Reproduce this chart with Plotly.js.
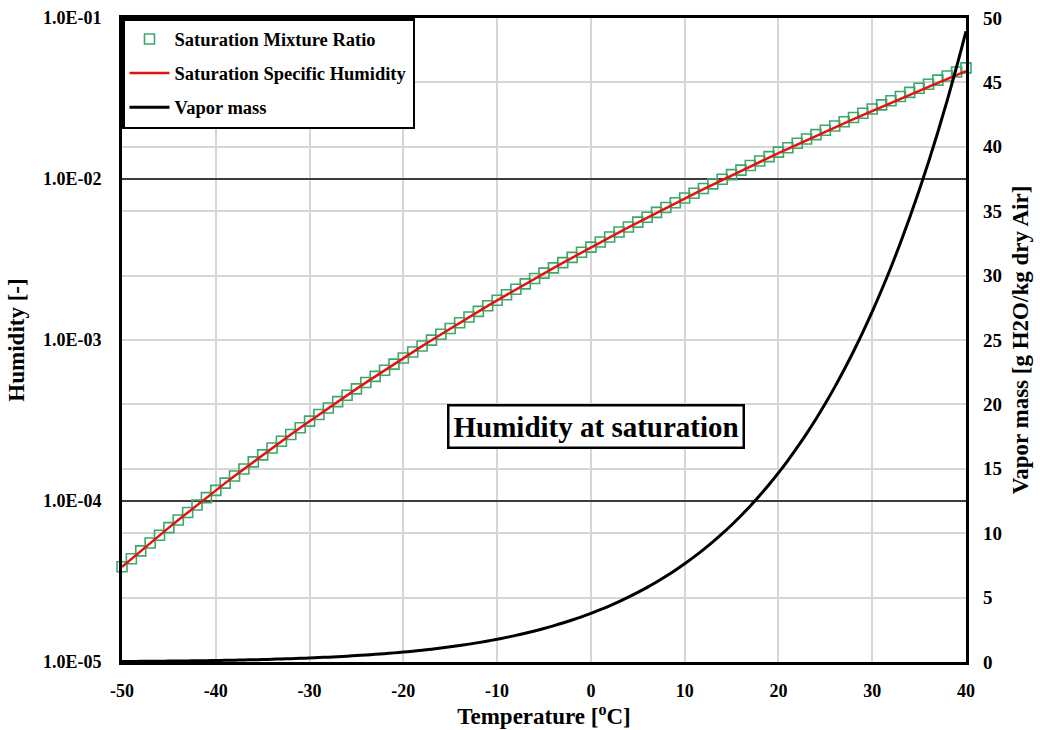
<!DOCTYPE html>
<html>
<head>
<meta charset="utf-8">
<script src="https://cdn.plot.ly/plotly-3.0.1.min.js"></script>
<style>html,body{margin:0;padding:0;background:#fff}#chart{width:1040px;height:730px}</style>
</head>
<body>
<div id="chart"></div>
<script>
// Temperature [ºC]
const temperature = [-50,-49,-48,-47,-46,-45,-44,-43,-42,-41,-40,-39,-38,-37,-36,-35,-34,-33,-32,-31,-30,-29,-28,-27,-26,-25,-24,-23,-22,-21,-20,-19,-18,-17,-16,-15,-14,-13,-12,-11,-10,-9,-8,-7,-6,-5,-4,-3,-2,-1,0,1,2,3,4,5,6,7,8,9,10,11,12,13,14,15,16,17,18,19,20,21,22,23,24,25,26,27,28,29,30,31,32,33,34,35,36,37,38,39,40];

// Saturation mixture ratio [-]
const mixtureRatio = [3.902e-5,4.375e-5,4.899e-5,5.480e-5,6.122e-5,6.832e-5,7.616e-5,8.481e-5,9.435e-5,1.049e-4,
  1.164e-4,1.291e-4,1.430e-4,1.582e-4,1.750e-4,1.933e-4,2.133e-4,2.352e-4,2.590e-4,2.851e-4,
  3.134e-4,3.443e-4,3.779e-4,4.145e-4,4.542e-4,4.973e-4,5.440e-4,5.946e-4,6.494e-4,7.087e-4,
  7.729e-4,8.421e-4,9.168e-4,9.977e-4,1.0848e-3,1.1784e-3,1.2794e-3,1.3881e-3,1.5050e-3,1.6305e-3,
  1.7655e-3,1.9100e-3,2.0653e-3,2.2319e-3,2.4102e-3,2.6013e-3,2.8057e-3,3.0244e-3,3.2583e-3,3.5078e-3,
  3.7747e-3,4.0594e-3,4.3632e-3,4.6872e-3,5.0324e-3,5.4002e-3,5.7918e-3,6.2088e-3,6.6524e-3,7.1241e-3,
  7.6254e-3,8.1583e-3,8.7243e-3,9.3252e-3,9.9631e-3,1.0639e-2,1.1357e-2,1.2118e-2,1.2924e-2,1.3779e-2,
  1.4684e-2,1.5643e-2,1.6658e-2,1.7732e-2,1.8869e-2,2.0070e-2,2.1342e-2,2.2687e-2,2.4109e-2,2.5612e-2,
  2.7201e-2,2.8879e-2,3.0653e-2,3.2528e-2,3.4508e-2,3.6600e-2,3.8809e-2,4.1144e-2,4.3609e-2,4.6215e-2,
  4.8968e-2];

// Saturation specific humidity [-]
const specificHumidity = [3.902e-5,4.375e-5,4.899e-5,5.480e-5,6.122e-5,6.832e-5,7.616e-5,8.481e-5,9.435e-5,1.048e-4,
  1.164e-4,1.291e-4,1.430e-4,1.582e-4,1.749e-4,1.932e-4,2.132e-4,2.351e-4,2.589e-4,2.850e-4,
  3.133e-4,3.442e-4,3.778e-4,4.143e-4,4.539e-4,4.970e-4,5.437e-4,5.942e-4,6.490e-4,7.082e-4,
  7.723e-4,8.414e-4,9.160e-4,9.967e-4,1.0836e-3,1.1770e-3,1.2778e-3,1.3862e-3,1.5028e-3,1.6278e-3,
  1.7624e-3,1.9064e-3,2.0611e-3,2.2269e-3,2.4044e-3,2.5946e-3,2.7978e-3,3.0153e-3,3.2477e-3,3.4955e-3,
  3.7605e-3,4.0430e-3,4.3442e-3,4.6653e-3,5.0072e-3,5.3712e-3,5.7585e-3,6.1705e-3,6.6084e-3,7.0737e-3,
  7.5677e-3,8.0923e-3,8.6488e-3,9.2391e-3,9.8648e-3,1.0527e-2,1.1230e-2,1.1973e-2,1.2759e-2,1.3591e-2,
  1.4471e-2,1.5402e-2,1.6385e-2,1.7423e-2,1.8519e-2,1.9676e-2,2.0896e-2,2.2184e-2,2.3541e-2,2.4972e-2,
  2.6480e-2,2.8069e-2,2.9741e-2,3.1503e-2,3.3357e-2,3.5308e-2,3.7359e-2,3.9518e-2,4.1787e-2,4.4174e-2,
  4.6682e-2];

// Vapor mass [g H2O/kg dry Air]
const vaporMass = [0.039,0.044,0.049,0.055,0.061,0.068,0.076,0.085,0.094,0.105,
  0.116,0.129,0.143,0.158,0.175,0.193,0.213,0.235,0.259,0.285,
  0.313,0.344,0.378,0.415,0.454,0.497,0.544,0.595,0.649,0.709,
  0.773,0.842,0.917,0.998,1.085,1.178,1.279,1.388,1.505,1.631,
  1.766,1.910,2.065,2.232,2.410,2.601,2.806,3.024,3.258,3.508,
  3.775,4.059,4.363,4.687,5.032,5.400,5.792,6.209,6.652,7.124,
  7.625,8.158,8.724,9.325,9.963,10.639,11.357,12.118,12.924,13.779,
  14.684,15.643,16.658,17.732,18.869,20.070,21.342,22.687,24.109,25.612,
  27.201,28.879,30.653,32.528,34.508,36.600,38.809,41.144,43.609,46.215,
  48.968];

const humidityTicks = [1e-5, 1e-4, 1e-3, 1e-2, 1e-1];
const humidityTickLabels = ["1.0E-05","1.0E-04","1.0E-03","1.0E-02","1.0E-01"];
const tempTicks = [-50,-40,-30,-20,-10,0,10,20,30,40];
const tempTickLabels = ["-50","-40","-30","-20","-10","0","10","20","30","40"];
const vaporTicks = [0,5,10,15,20,25,30,35,40,45,50];

const FONT = "Liberation Serif, Times New Roman, serif";

const traces = [
  {
    x: temperature, y: mixtureRatio, type: "scatter", mode: "markers",
    name: "Saturation Mixture Ratio", legendgroup: "a",
    marker: {symbol: "square-open", size: 10, color: "#3aa86b", line: {width: 1.6, color: "#3aa86b"}},
    cliponaxis: false, xaxis: "x", yaxis: "y"
  },
  {
    x: temperature, y: specificHumidity, type: "scatter", mode: "lines",
    name: "Saturation Specific Humidity", legendgroup: "b",
    line: {color: "#e3140f", width: 2.5},
    xaxis: "x", yaxis: "y"
  },
  {
    x: temperature, y: vaporMass, type: "scatter", mode: "lines",
    name: "Vapor mass", legendgroup: "c",
    line: {color: "#000000", width: 3, shape: "spline"},
    xaxis: "x", yaxis: "y2"
  }
];

const layout = {
  width: 1040, height: 730,
  margin: {l: 122, r: 74, t: 18, b: 68},
  paper_bgcolor: "#ffffff", plot_bgcolor: "#ffffff",
  font: {family: FONT, color: "#000", size: 16},
  showlegend: true,
  legend: {
    x: 0, y: 1, xanchor: "left", yanchor: "top",
    bgcolor: "#ffffff", bordercolor: "#000000", borderwidth: 2.5,
    font: {family: FONT, size: 18.5, color: "#000", weight: "bold"},
    traceorder: "grouped", tracegroupgap: 7, itemwidth: 40
  },
  xaxis: {
    range: [-50, 40], tickvals: tempTicks, ticktext: tempTickLabels, ticks: "",
    showgrid: true, gridcolor: "#d6d6d6", gridwidth: 2,
    showline: true, linecolor: "#000", linewidth: 3, mirror: true,
    zeroline: false, ticklabelstandoff: 10,
    tickfont: {family: FONT, size: 18, color: "#000", weight: "bold"},
    title: {text: "Temperature [<sup>o</sup>C]", standoff: 2,
            font: {family: FONT, size: 23, color: "#000", weight: "bold"}}
  },
  yaxis: {
    type: "log", range: [-5, -1],
    tickvals: humidityTicks, ticktext: humidityTickLabels, ticks: "",
    showgrid: true, gridcolor: "#3c3c3c", gridwidth: 1.6,
    showline: true, linecolor: "#000", linewidth: 3, mirror: true,
    zeroline: false, ticklabelstandoff: 14,
    tickfont: {family: FONT, size: 18, color: "#000", weight: "bold"},
    title: {text: "Humidity [-]", standoff: 12,
            font: {family: FONT, size: 23, color: "#000", weight: "bold"}}
  },
  yaxis2: {
    overlaying: "y", side: "right", range: [0, 50],
    tickvals: vaporTicks, ticks: "",
    showgrid: true, gridcolor: "#d6d6d6", gridwidth: 2,
    showline: false, zeroline: false, ticklabelstandoff: 16,
    tickfont: {family: FONT, size: 19, color: "#000", weight: "bold"},
    title: {text: "Vapor mass [g H2O/kg dry Air]", standoff: 10,
            font: {family: FONT, size: 23, color: "#000", weight: "bold"}}
  },
  annotations: [{
    xref: "paper", yref: "paper", x: 0.5616, y: 0.365,
    text: "Humidity at saturation", showarrow: false,
    font: {family: FONT, size: 29, color: "#000", weight: "bold"},
    bgcolor: "#ffffff", bordercolor: "#000", borderwidth: 2.5, borderpad: 4
  }]
};

Plotly.newPlot("chart", traces, layout, {displayModeBar: false, staticPlot: true});
</script>
</body>
</html>
